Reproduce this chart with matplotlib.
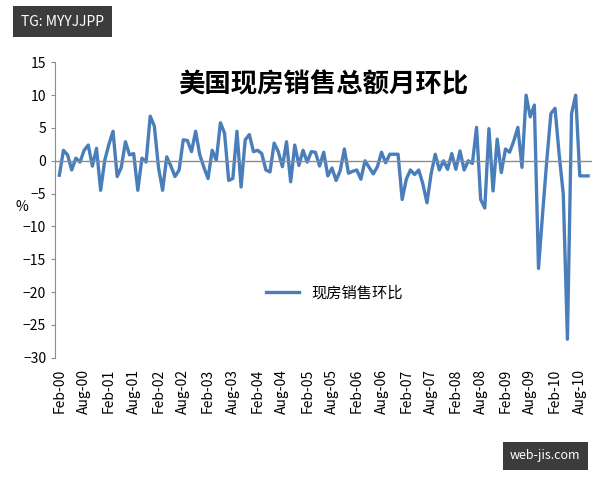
import matplotlib
matplotlib.use("Agg")
import matplotlib.pyplot as plt
import pandas as pd

plt.rcParams['font.family'] = ['Noto Sans CJK SC', 'DejaVu Sans']

title = "美国现房销售总额月环比"
series_name = "现房销售环比"
values = [-2.2, 1.6, 0.9, -1.4, 0.4, -0.2, 1.6, 2.4, -0.8, 1.9, -4.5, 0.1, 2.5, 4.5, -2.4, -1.0,
          2.9, 0.9, 1.1, -4.5, 0.4, -0.2, 6.8, 5.3, -1.0, -4.5, 0.6, -0.8, -2.4, -1.4, 3.2, 3.1,
          1.4, 4.5, 0.9, -1.0, -2.7, 1.6, 0.1, 5.8, 4.2, -3.0, -2.7, 4.5, -4.0, 3.2, 4.0, 1.4,
          1.6, 1.1, -1.4, -1.7, 2.7, 1.4, -0.9, 2.9, -3.2, 2.4, -0.7, 1.6, -0.2, 1.4, 1.3, -0.8,
          1.3, -2.3, -1.1, -3.0, -1.5, 1.8, -1.9, -1.6, -1.4, -2.8, 0.0, -1.0, -2.0, -0.9, 1.3, -0.3, 1.0, 1.0,
          1.0, -5.9, -2.8, -1.4, -2.1, -1.4, -3.5, -6.4, -2.0, 1.0, -1.4, 0.0, -1.3, 1.1, -1.3, 1.5,
          -1.4, 0.0, -0.4, 5.1, -5.9, -7.2, 4.9, -4.6, 3.3, -1.8, 1.8, 1.3, 3.0, 5.1, -1.0, 10.0,
          6.7, 8.5, -16.4, -8.0, 0.0, 7.2, 8.0, 1.0, -5.1, -27.2, 7.2, 10.0, -2.3, -2.3, -2.3]
dates = pd.date_range("2000-02-01", periods=len(values), freq="MS")
tick_idx = list(range(0, len(values), 6))
tick_labels = [dates[i].strftime("%b-%y") for i in tick_idx]

fig = plt.figure(figsize=(6, 4.8), dpi=100)
ax = fig.add_axes([0.092, 0.255, 0.895, 0.615])
ax.plot(range(len(values)), values, color="#4a7ebb", lw=2.4, label=series_name)
ax.axhline(0, color="#8c8c8c", lw=1)
ax.set_ylim(-30, 15)
ax.set_yticks(range(-30, 16, 5))
ax.set_xlim(-1, len(values))
ax.set_xticks(tick_idx)
ax.set_xticklabels(tick_labels, rotation=90, fontsize=10)
ax.tick_params(axis='x', length=0, pad=8)
ax.tick_params(axis='y', labelsize=10, length=3, color="#8c8c8c")
for s in ['top', 'right', 'bottom']:
    ax.spines[s].set_visible(False)
ax.spines['left'].set_color("#8c8c8c")
ax.text(0.5, 0.97, title, transform=ax.transAxes, ha='center', va='top',
        fontsize=19, fontweight='bold')
ax.legend(loc='center', bbox_to_anchor=(0.52, 0.22), frameon=False, fontsize=11,
          handlelength=2.2)
fig.text(0.025, 0.56, "%", fontsize=10)
fig.text(0.035, 0.955, "TG: MYYJJPP", color="white", fontsize=10, va='center',
         bbox=dict(boxstyle="square,pad=0.6", fc="#3c3c3c", ec="none"))
fig.text(0.85, 0.05, "web-jis.com", color="white", fontsize=9, va='center',
         bbox=dict(boxstyle="square,pad=0.6", fc="#3c3c3c", ec="none"))
fig.savefig("out.png", dpi=100)
